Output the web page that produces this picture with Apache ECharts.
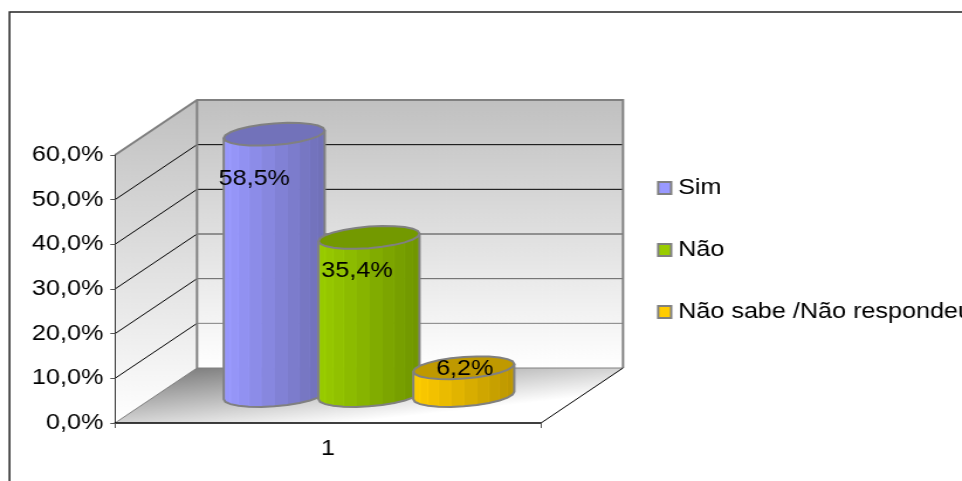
<!DOCTYPE html>
<html>
<head>
<meta charset="utf-8">
<title>Grafico</title>
<script src="https://cdn.jsdelivr.net/npm/echarts@6/dist/echarts.min.js"></script>
<style>
    html, body { margin: 0; padding: 0; background: #fff; overflow: hidden; width: 962px; height: 481px; }
    /* a figura original esta esticada na horizontal, o texto tambem */
    #chart { width: 822px; height: 481px; transform-origin: 0 0; transform: scaleX(1.1703); }
</style>
</head>
<body>
<div id="chart"></div>
<script>
var categories = ['1'];
var seriesNames = ['Sim', 'Não', 'Não sabe /Não respondeu'];
var simValues = [58.5];
var naoValues = [35.4];
var nsnrValues = [6.2];
var yTicks = [0, 10, 20, 30, 40, 50, 60];

var sideColors = ['#9999ff', '#99cc00', '#ffcc00'];
var darkColors = ['#6f6fb5', '#6f9400', '#ba9500'];
var topColors = ['#7272ba', '#739900', '#bf9900'];
var backLineColors = ['#808080', '#808080', '#606060', '#404040', '#000', '#000', '#808080'];

//fator horizontal do CSS: converte pixels da pagina em unidades do grafico
var sx = 1.1703;
var textSize = 21.5;
//profundidade da caixa 3D
var depthX = 82 / sx, depthY = -55;
//posicao das colunas dentro da categoria e na profundidade
var barOffsets = [-0.2225, 0, 0.2225];
var barRadius = 0.1185, barDepth = 0.5;
var labelShift = [[-20, 45], [-12, 34], [1, 1]];

function fmt(v) {
    return v.toFixed(1).replace('.', ',');
}

function gradient(from, to) {
    return new echarts.graphic.LinearGradient(0, 0, 0, 1, [
        { offset: 0, color: from },
        { offset: 1, color: to }
    ]);
}

//paredes, chao e linhas de grade
function renderWalls(params, api) {
    var band = api.size([1, 0])[0];
    var c = api.coord([0, 0]);
    var x0 = c[0] - band / 2, x1 = c[0] + band / 2;
    var y0 = c[1];
    var yTop = api.coord([0, yTicks[yTicks.length - 1]])[1];
    var backX = x0 + depthX, backY = y0 + depthY;
    var children = [];

    children.push({
        type: 'polygon',
        shape: { points: [[x0, yTop], [backX, yTop + depthY], [backX, backY], [x0, y0]] },
        style: { fill: gradient('#c0c0c0', '#ffffff'), stroke: null }
    });
    children.push({
        type: 'polygon',
        shape: { points: [[backX, yTop + depthY], [x1 + depthX, yTop + depthY], [x1 + depthX, backY], [backX, backY]] },
        style: { fill: gradient('#c0c0c0', '#ffffff'), stroke: null }
    });
    //chao: mais escuro no canto de tras a esquerda
    children.push({
        type: 'polygon',
        shape: { points: [[backX, backY], [x1 + depthX, backY], [x1, y0], [x0, y0]] },
        style: {
            fill: new echarts.graphic.LinearGradient(backX, backY, backX + 9, backY + 70, [
                { offset: 0, color: '#808080' },
                { offset: 1, color: '#ffffff' }
            ], true),
            stroke: null
        }
    });

    yTicks.forEach(function (t, i) {
        var y = api.coord([0, t])[1];
        if (t > 0 && t < yTicks[yTicks.length - 1]) {
            children.push({
                type: 'line',
                shape: { x1: x0, y1: y, x2: backX, y2: y + depthY },
                style: { stroke: '#000', lineWidth: 1 }
            });
            children.push({
                type: 'line',
                shape: { x1: backX, y1: y + depthY, x2: x1 + depthX, y2: y + depthY },
                style: { stroke: backLineColors[i], lineWidth: 1 }
            });
        }
    });

    children.push({
        type: 'polyline',
        shape: { points: [[x0, yTop], [backX, yTop + depthY], [x1 + depthX, yTop + depthY], [x1 + depthX, backY]] },
        style: { fill: null, stroke: '#808080', lineWidth: 2 }
    });
    children.push({
        type: 'line',
        shape: { x1: backX, y1: yTop + depthY, x2: backX, y2: backY },
        style: { stroke: '#808080', lineWidth: 2 }
    });
    children.push({
        type: 'polyline',
        shape: { points: [[x0, y0], [backX, backY], [x1 + depthX, backY]] },
        style: { fill: null, stroke: '#808080', lineWidth: 1 }
    });
    children.push({
        type: 'line',
        shape: { x1: x1 + depthX, y1: backY, x2: x1, y2: y0 },
        style: { stroke: '#000', lineWidth: 1 }
    });

    return { type: 'group', children: children };
}

//um cilindro, com as faces verticais em tons diferentes
function cylinder(index) {
    return function (params, api) {
        var band = api.size([1, 0])[0];
        var value = api.value(1);
        var c = api.coord([api.value(0), 0]);
        var top = api.coord([api.value(0), value]);
        var r = band * barRadius;
        var cx = c[0] + barOffsets[index] * band + barDepth * depthX;
        var baseY = c[1] + barDepth * depthY;
        var topY = top[1] + barDepth * depthY;
        var b = r * sx * 0.214, s = -r * sx * 0.075;
        var children = [];
        var steps = 12;

        function ring(y, t) {
            return [cx + r * Math.cos(t), y + b * Math.sin(t) + s * Math.cos(t)];
        }

        for (var i = steps - 1; i >= 0; i--) {
            var t1 = Math.PI * i / steps, t2 = Math.PI * (i + 1) / steps;
            var f = (1 + Math.cos((t1 + t2) / 2)) / 2;
            var shade = echarts.color.lerp(f, [sideColors[index], darkColors[index]]);
            children.push({
                type: 'polygon',
                shape: { points: [ring(topY, t1), ring(topY, t2), ring(baseY, t2), ring(baseY, t1)] },
                style: { fill: shade, stroke: echarts.color.lift(shade, -0.05), lineWidth: 1 }
            });
        }

        var front = [ring(topY, 0)];
        for (var k = 0; k <= steps; k++) {
            front.push(ring(baseY, Math.PI * k / steps));
        }
        front.push(ring(topY, Math.PI));
        children.push({
            type: 'polyline',
            shape: { points: front },
            style: { fill: null, stroke: '#808080', lineWidth: 2 }
        });

        var lid = [];
        for (var n = 0; n < 24; n++) {
            lid.push(ring(topY, Math.PI * 2 * n / 24));
        }
        children.push({
            type: 'polygon',
            shape: { points: lid },
            style: { fill: topColors[index], stroke: '#808080', lineWidth: 2 }
        });

        children.push({
            type: 'text',
            z2: 10,
            style: {
                text: fmt(value) + '%',
                x: cx + labelShift[index][0] / sx,
                y: topY + labelShift[index][1],
                align: 'center',
                verticalAlign: 'middle',
                fill: '#000',
                font: textSize + 'px "Liberation Sans", Arial, sans-serif'
            }
        });

        return { type: 'group', children: children };
    };
}

function barSeries(index, values) {
    return {
        name: seriesNames[index],
        type: 'custom',
        z: 4 + index,
        itemStyle: { color: sideColors[index] },
        data: values.map(function (v, i) { return [i, v]; }),
        renderItem: cylinder(index)
    };
}

var chart = echarts.init(document.getElementById('chart'));

chart.setOption({
    animation: false,
    backgroundColor: '#fff',
    textStyle: { fontFamily: '"Liberation Sans", Arial, sans-serif' },
    graphic: [{
        type: 'polyline',
        shape: { points: [[9.5 / sx, 481], [9.5 / sx, 12], [822, 12]] },
        style: { fill: null, stroke: '#222', lineWidth: 1.5 }
    }],
    legend: {
        orient: 'vertical',
        left: 657 / sx,
        top: 177,
        padding: 0,
        icon: 'rect',
        itemWidth: 13 / sx,
        itemHeight: 12,
        itemGap: 40,
        itemStyle: { borderColor: '#808080', borderWidth: 2 },
        textStyle: { fontSize: textSize, color: '#000', padding: [0, 0, 0, 1] },
        data: seriesNames
    },
    grid: { left: 115 / sx, top: 155, width: 426 / sx, height: 268 },
    xAxis: {
        type: 'category',
        data: categories,
        z: 3,
        boundaryGap: true,
        axisLine: { lineStyle: { color: '#000', width: 1.5 } },
        axisTick: { show: true, length: 5, lineStyle: { color: '#555' } },
        axisLabel: { color: '#000', fontSize: textSize, margin: 15 },
        splitLine: { show: false }
    },
    yAxis: {
        type: 'value',
        min: 0,
        max: 60,
        interval: 10,
        z: 3,
        axisLine: { show: true, lineStyle: { color: '#333', width: 1 } },
        axisTick: { show: true, length: 4, lineStyle: { color: '#555' } },
        axisLabel: {
            color: '#000',
            fontSize: textSize,
            margin: 10,
            padding: [2, 0, 0, 0],
            formatter: function (v) { return fmt(v) + '%'; }
        },
        splitLine: { show: false }
    },
    series: [
        { type: 'custom', name: 'paredes', z: 1, silent: true, data: [[0, 0]], renderItem: renderWalls },
        barSeries(0, simValues),
        barSeries(1, naoValues),
        barSeries(2, nsnrValues)
    ]
});
</script>
</body>
</html>
